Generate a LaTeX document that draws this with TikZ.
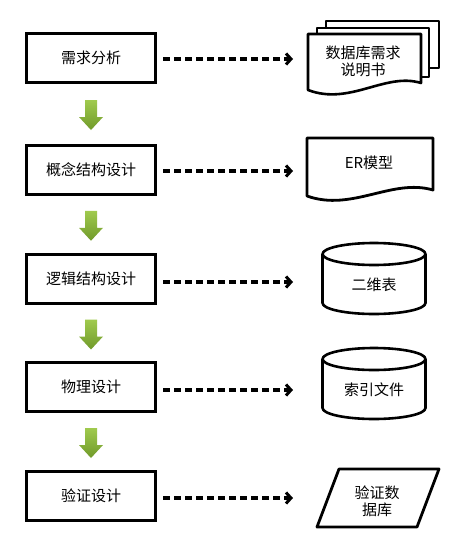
\documentclass[tikz,border=0pt]{standalone}
\usepackage{fontspec}
\newfontfamily\cjk{Noto Sans CJK SC}
\usetikzlibrary{arrows.meta,calc}
\definecolor{glight}{RGB}{160,202,78}
\definecolor{gdark}{RGB}{112,154,42}
\tikzset{
  stepbox/.style={draw=black,line width=3pt,fill=white,minimum width=129pt,minimum height=49pt,inner sep=0pt,font=\cjk\fontsize{15}{17}\selectfont},
  txt/.style={font=\cjk\fontsize{15}{17}\selectfont,inner sep=0pt,align=center},
  shapeline/.style={draw=black,line width=2.6pt,fill=white,line join=round},
  dasharrow/.style={line width=3.2pt,dash pattern=on 7pt off 4pt,-{Straight Barb[length=5pt,width=11pt,line width=3pt]}},
  greenarrow/.style={top color=glight,bottom color=gdark,draw=none}
}
\begin{document}
\begin{tikzpicture}[x=1pt,y=-1pt]
\useasboundingbox[fill=white] (0,0) rectangle (461,546);
% left process boxes
\node[stepbox] (b1) at (91,57.5) {需求分析};
\node[stepbox] (b2) at (91,169.5) {概念结构设计};
\node[stepbox] (b3) at (91,279) {逻辑结构设计};
\node[stepbox] (b4) at (91,387) {物理设计};
\node[stepbox] (b5) at (91,496) {验证设计};
% green block arrows between boxes
\foreach \a/\b in {b1/b2,b2/b3,b3/b4,b4/b5}{
  \coordinate (m) at ($(\a.south)!0.5!(\b.north)+(0,1.5)$);
  \shade[greenarrow] (m) ++(-6,-15) -- ++(12,0) -- ++(0,17) -- ++(6,0) -- ++(-12,13) -- ++(-12,-13) -- ++(6,0) -- cycle;
}
% right side: document stack
\draw[shapeline] (326,21) rectangle (439,68);
\draw[shapeline] (317,28) rectangle (429,77);
\draw[shapeline] (308,34) -- (421,34) -- (421,83) .. controls (385,72) and (350,106) .. (308,90) -- cycle;
\node[txt] (r1) at (363,61) {数据库需求\\说明书};
% ER document
\draw[shapeline,line width=2.8pt] (307,138) -- (433,138) -- (433,190) .. controls (392,178) and (352,212) .. (307,196) -- cycle;
\node[txt] (r2) at (369,163) {ER模型};
% cylinders
\foreach \yt/\yb in {254/303,359/408}{
  \path[shapeline,draw=none] (322.5,\yt) -- (322.5,\yb) arc[start angle=180,end angle=0,x radius=51.5,y radius=11] -- (425.5,\yt) -- cycle;
  \draw[shapeline,fill=none] (322.5,\yt) -- (322.5,\yb) arc[start angle=180,end angle=0,x radius=51.5,y radius=11] -- (425.5,\yt);
  \draw[shapeline] (374,\yt) ellipse[x radius=51.5,y radius=11];
}
\node[txt] (r3) at (374,285) {二维表};
\node[txt] (r4) at (374,390) {索引文件};
% parallelogram
\draw[shapeline,line width=2.8pt] (339,469) -- (439,469) -- (417,527) -- (317,527) -- cycle;
\node[txt] (r5) at (377,501) {验证数\\据库};
% dashed connectors
\coordinate (t1) at (293,59);
\coordinate (t2) at (293,171);
\coordinate (t3) at (293,282);
\coordinate (t4) at (293,390);
\coordinate (t5) at (293,498);
\draw[dasharrow] (b1.east |- t1) ++(6,0) -- (t1);
\draw[dasharrow] (b2.east |- t2) ++(6,0) -- (t2);
\draw[dasharrow] (b3.east |- t3) ++(6,0) -- (t3);
\draw[dasharrow] (b4.east |- t4) ++(6,0) -- (t4);
\draw[dasharrow] (b5.east |- t5) ++(6,0) -- (t5);
\end{tikzpicture}
\end{document}
